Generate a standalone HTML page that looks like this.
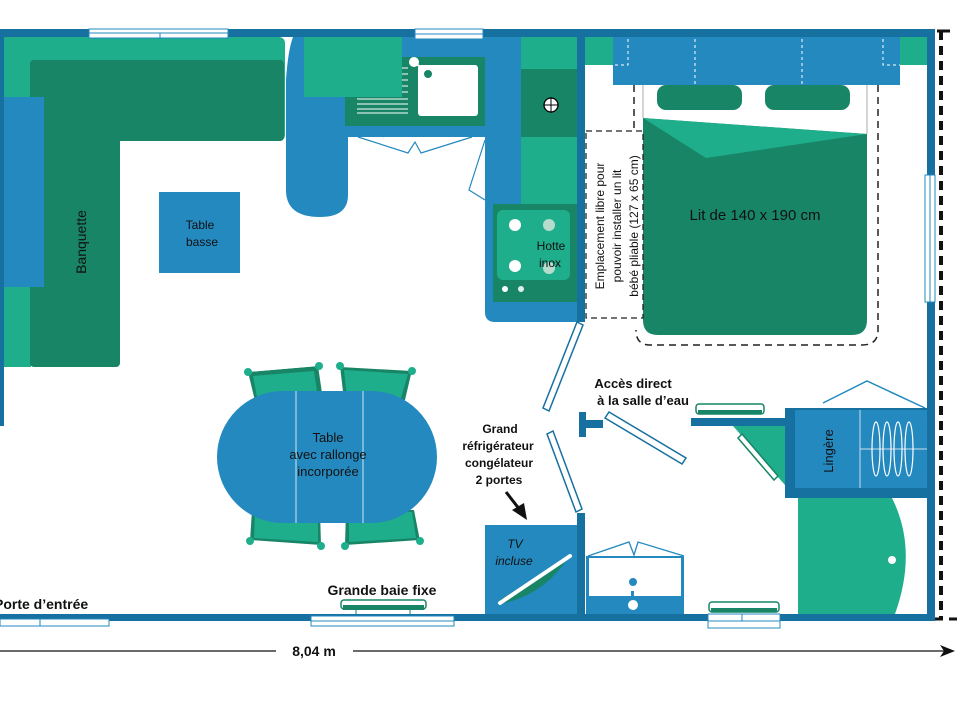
<!DOCTYPE html>
<html><head><meta charset="utf-8"><style>
html,body{margin:0;padding:0;background:#fff;width:960px;height:720px;overflow:hidden}
svg{display:block}
text{font-family:"Liberation Sans",sans-serif;fill:#111}
</style></head><body>
<svg width="960" height="720" viewBox="0 0 960 720" xmlns="http://www.w3.org/2000/svg">
<defs></defs>
<!-- colors -->
<!-- wall #1670a0 blue #2389bf lg #1fae8c dg #178566 -->

<!-- Banquette -->
<rect x="3" y="37" width="282" height="104" rx="6" fill="#1fae8c"/>
<rect x="3" y="37" width="28" height="330" fill="#1fae8c"/>
<rect x="30" y="60" width="254" height="81" rx="4" fill="#178566"/>
<rect x="30" y="60" width="90" height="307" rx="4" fill="#178566"/>
<rect x="3" y="97" width="41" height="190" fill="#2389bf"/>
<rect x="0" y="36" width="4" height="390" fill="#1670a0"/>
<text transform="translate(86,242) rotate(-90)" text-anchor="middle" font-size="14">Banquette</text>

<!-- Table basse -->
<rect x="159" y="192" width="81" height="81" fill="#2389bf"/>
<text x="200" y="229" text-anchor="middle" font-size="12">Table</text>
<text x="202" y="246" text-anchor="middle" font-size="12">basse</text>

<!-- Kitchen -->
<path d="M293 37 L348 37 L348 195 Q348 217 320 217 Q286 217 286 190 L286 80 Q288 50 293 37 Z" fill="#2389bf"/>
<rect x="345" y="37" width="140" height="100" fill="#2389bf"/>
<rect x="304" y="37" width="98" height="60" fill="#1fae8c"/>
<rect x="345" y="57" width="140" height="69" fill="#178566"/>
<rect x="304" y="37" width="98" height="60" fill="#1fae8c"/>
<rect x="418" y="65" width="60" height="51" rx="3" fill="#fff"/>
<g stroke="#fff" stroke-width="1"><line x1="357" y1="99" x2="408" y2="99"/><line x1="357" y1="104" x2="408" y2="104"/><line x1="357" y1="109" x2="408" y2="109"/><line x1="357" y1="113" x2="408" y2="113"/>
<line x1="402" y1="68" x2="408" y2="68"/><line x1="402" y1="74" x2="408" y2="74"/><line x1="402" y1="80" x2="408" y2="80"/><line x1="402" y1="86" x2="408" y2="86"/><line x1="402" y1="92" x2="408" y2="92"/></g>
<circle cx="414" cy="62" r="5" fill="#fff"/><line x1="414" y1="62" x2="428" y2="73" stroke="#fff" stroke-width="2"/><circle cx="428" cy="74" r="4" fill="#178566"/>
<path d="M485 37 L580 37 L580 322 L495 322 Q485 322 485 312 Z" fill="#2389bf"/>
<rect x="521" y="37" width="57" height="265" fill="#1fae8c"/>
<rect x="521" y="69" width="57" height="68" fill="#178566"/>
<circle cx="551" cy="105" r="7" fill="#fff" stroke="#000" stroke-width="1.3"/><line x1="544" y1="105" x2="558" y2="105" stroke="#000"/><line x1="551" y1="97" x2="551" y2="113" stroke="#000"/>
<rect x="493" y="204" width="85" height="98" fill="#178566"/>
<rect x="497" y="210" width="73" height="70" rx="6" fill="#1fae8c"/>
<circle cx="515" cy="225" r="6" fill="#fff"/><circle cx="549" cy="225" r="6" fill="#b5dccc"/><circle cx="515" cy="266" r="6" fill="#fff"/><circle cx="549" cy="268" r="6" fill="#b5dccc"/>
<circle cx="505" cy="289" r="3" fill="#fff"/><circle cx="521" cy="289" r="3" fill="#e0f0ea"/>
<text x="551" y="250" text-anchor="middle" font-size="12">Hotte</text>
<text x="550" y="267" text-anchor="middle" font-size="12">inox</text>
<g fill="none" stroke="#2389bf" stroke-width="1.2"><path d="M358 137 L408 153 L415 142 L421 153 L472 137"/><path d="M485 140 L469 190 L485 200"/></g>
<rect x="577" y="37" width="8" height="285" fill="#1670a0"/>

<!-- Top wall -->
<rect x="0" y="29" width="935" height="8" fill="#1670a0"/>
<rect x="89" y="29" width="139" height="9" fill="#fff" stroke="#2389bf" stroke-width="1"/>
<line x1="89" y1="33" x2="228" y2="33" stroke="#2389bf"/><line x1="160" y1="33" x2="160" y2="38" stroke="#2389bf"/>
<rect x="415" y="29" width="68" height="10" fill="#fff" stroke="#2389bf" stroke-width="1"/>
<line x1="415" y1="34" x2="483" y2="34" stroke="#2389bf"/>

<!-- Bedroom -->
<rect x="585" y="37" width="342" height="28" fill="#1fae8c"/>
<rect x="613" y="37" width="287" height="48" fill="#2389bf"/>
<g stroke="#fff" stroke-width="1" stroke-dasharray="3,3" fill="none"><path d="M628 39 V65 H613"/><path d="M695 39 V85"/><path d="M802 39 V85"/><path d="M883 39 V65 H900"/></g>
<rect x="657" y="85" width="85" height="25" rx="9" fill="#178566"/>
<rect x="765" y="85" width="85" height="25" rx="9" fill="#178566"/>
<path d="M643 118 L867 134 L867 320 Q867 335 852 335 L658 335 Q643 335 643 320 Z" fill="#178566"/>
<path d="M643 118 L867 134 L706 158 Z" fill="#1fae8c"/>
<path d="M643 85 V118 M867 85 V134" stroke="#aaa" stroke-width="1"/>
<path d="M878 85 V330 Q878 345 862 345 L650 345 Q636 345 636 330" fill="none" stroke="#222" stroke-width="1.5" stroke-dasharray="7,5"/>
<line x1="634" y1="85" x2="634" y2="128" stroke="#222" stroke-width="1.5" stroke-dasharray="7,5"/>
<rect x="586" y="131" width="57" height="187" fill="none" stroke="#222" stroke-width="1.3" stroke-dasharray="6,4"/>
<text transform="translate(604,226) rotate(-90)" text-anchor="middle" font-size="12">Emplacement libre pour</text>
<text transform="translate(621,226) rotate(-90)" text-anchor="middle" font-size="12">pouvoir installer un lit</text>
<text transform="translate(638,226) rotate(-90)" text-anchor="middle" font-size="12">bébé pliable  (127 x 65 cm)</text>
<text x="755" y="220" text-anchor="middle" font-size="15">Lit de 140 x 190 cm</text>

<!-- Right wall -->
<rect x="927" y="29" width="8" height="592" fill="#1670a0"/>
<rect x="925" y="175" width="10" height="127" fill="#fff" stroke="#2389bf"/>
<line x1="930" y1="175" x2="930" y2="302" stroke="#2389bf"/>
<line x1="941" y1="31" x2="941" y2="620" stroke="#111" stroke-width="4" stroke-dasharray="9,6"/>
<line x1="937" y1="31" x2="950" y2="31" stroke="#111" stroke-width="3"/>
<line x1="935" y1="619" x2="960" y2="619" stroke="#111" stroke-width="3" stroke-dasharray="8,6"/>

<!-- Doors -->
<g fill="#fff" stroke="#1670a0" stroke-width="1.5">
<polygon points="577,322 583,325 549,411 543,408"/>
<polygon points="547,434 553,431 582,509 576,512"/>
<polygon points="605,418 609,412 686,458 682,464"/>
</g>
<rect x="579" y="412" width="7" height="25" fill="#1670a0"/>
<rect x="585" y="420" width="18" height="8" fill="#1670a0"/>
<text x="633" y="388" text-anchor="middle" font-size="13" font-weight="bold">Accès direct</text>
<text x="643" y="405" text-anchor="middle" font-size="13" font-weight="bold">à la salle d’eau</text>

<!-- Bathroom -->
<path d="M823 403 L867 381 L925 408" fill="none" stroke="#2389bf" stroke-width="1.5"/>
<rect x="696" y="404" width="68" height="10" rx="3" fill="#fff" stroke="#178566" stroke-width="1.5"/>
<rect x="698" y="410" width="64" height="4" fill="#178566"/>
<rect x="691" y="418" width="100" height="8" fill="#1670a0"/>
<path d="M733 426 L785 426 L785 485 Z" fill="#1fae8c"/>
<polygon points="738,438 742,434 778,476 774,480" fill="#fff" stroke="#178566" stroke-width="1.5"/>
<rect x="785" y="408" width="142" height="90" fill="#1670a0"/>
<rect x="795" y="410" width="132" height="78" fill="#2389bf"/>
<line x1="860" y1="410" x2="860" y2="488" stroke="#cde" stroke-width="1"/>
<line x1="860" y1="449" x2="927" y2="449" stroke="#cde" stroke-width="1"/>
<g fill="none" stroke="#fff" stroke-width="1.2"><ellipse cx="876" cy="449" rx="4" ry="27"/><ellipse cx="887" cy="449" rx="4" ry="27"/><ellipse cx="898" cy="449" rx="4" ry="27"/><ellipse cx="909" cy="449" rx="4" ry="27"/></g>
<text transform="translate(833,451) rotate(-90)" text-anchor="middle" font-size="13">Lingère</text>
<path d="M798 498 L892 498 Q918 550 895 614 L798 614 Z" fill="#1fae8c"/>
<circle cx="892" cy="560" r="4" fill="#fff"/>
<!-- sink -->
<path d="M588 556 L629 542 L634 555 L638 542 L684 556" fill="none" stroke="#2389bf" stroke-width="1.3"/>
<rect x="586" y="556" width="98" height="58" fill="#2389bf"/>
<rect x="589" y="558" width="92" height="38" fill="#fff"/>
<circle cx="633" cy="582" r="4" fill="#2389bf"/><rect x="631" y="591" width="3" height="5" fill="#2389bf"/><circle cx="633" cy="605" r="5" fill="#fff"/>
<rect x="709" y="602" width="70" height="10" rx="3" fill="#fff" stroke="#178566" stroke-width="1.5"/>
<rect x="711" y="608" width="66" height="4" fill="#178566"/>
<!-- TV -->
<rect x="485" y="525" width="93" height="89" fill="#2389bf"/>
<path d="M500 604 Q545 595 570 555 L500 600 Z" fill="#178566"/>
<line x1="500" y1="603" x2="570" y2="556" stroke="#fff" stroke-width="4" stroke-linecap="round"/>
<text x="515" y="548" text-anchor="middle" font-size="12" font-style="italic">TV</text>
<text x="514" y="565" text-anchor="middle" font-size="12" font-style="italic">incluse</text>
<rect x="577" y="513" width="8" height="101" fill="#1670a0"/>
<text x="500" y="433" text-anchor="middle" font-size="12" font-weight="bold">Grand</text>
<text x="498" y="450" text-anchor="middle" font-size="12" font-weight="bold">réfrigérateur</text>
<text x="499" y="467" text-anchor="middle" font-size="12" font-weight="bold">congélateur</text>
<text x="499" y="484" text-anchor="middle" font-size="12" font-weight="bold">2 portes</text>
<line x1="506" y1="492" x2="520" y2="510" stroke="#111" stroke-width="3"/>
<polygon points="527,520 512,510 524,503" fill="#111"/>

<!-- Dining -->
<g>
<polygon points="248,372 318,366 323,400 256,405" fill="#178566"/><polygon points="253,376 314,371 318,398 258,402" fill="#1fae8c"/>
<line x1="248" y1="371" x2="319" y2="365" stroke="#fff" stroke-width="2"/><circle cx="248" cy="372" r="4" fill="#1fae8c"/><circle cx="319" cy="366" r="4" fill="#1fae8c"/>
<polygon points="340,366 412,370 405,400 344,400" fill="#178566"/><polygon points="344,370 408,374 401,398 347,398" fill="#1fae8c"/>
<line x1="340" y1="366" x2="412" y2="370" stroke="#fff" stroke-width="2"/><circle cx="340" cy="366" r="4" fill="#1fae8c"/><circle cx="412" cy="371" r="4" fill="#1fae8c"/>
<polygon points="252,510 320,510 321,546 250,541" fill="#178566"/><polygon points="255,512 318,512 318,542 254,538" fill="#1fae8c"/>
<line x1="250" y1="541" x2="321" y2="546" stroke="#fff" stroke-width="2"/><circle cx="250" cy="541" r="4" fill="#1fae8c"/><circle cx="321" cy="546" r="4" fill="#1fae8c"/>
<polygon points="346,510 414,510 420,541 345,546" fill="#178566"/><polygon points="349,512 412,512 416,538 349,542" fill="#1fae8c"/>
<line x1="345" y1="546" x2="420" y2="541" stroke="#fff" stroke-width="2"/><circle cx="345" cy="546" r="4" fill="#1fae8c"/><circle cx="420" cy="541" r="4" fill="#1fae8c"/>
<rect x="217" y="391" width="220" height="132" rx="66" fill="#2389bf"/>
<line x1="296" y1="391" x2="296" y2="523" stroke="#cfe6f2" stroke-width="1"/>
<line x1="363" y1="391" x2="363" y2="523" stroke="#cfe6f2" stroke-width="1"/>
<text x="328" y="442" text-anchor="middle" font-size="13">Table</text>
<text x="328" y="459" text-anchor="middle" font-size="13">avec rallonge</text>
<text x="328" y="476" text-anchor="middle" font-size="13">incorporée</text>
</g>

<!-- Bottom wall -->
<rect x="0" y="614" width="935" height="7" fill="#1670a0"/>
<rect x="0" y="619" width="109" height="7" fill="#fff" stroke="#2389bf"/>
<line x1="40" y1="619" x2="40" y2="626" stroke="#2389bf"/>
<rect x="311" y="616" width="143" height="10" fill="#fff" stroke="#2389bf"/>
<line x1="311" y1="621" x2="454" y2="621" stroke="#2389bf"/>
<rect x="341" y="600" width="85" height="9" rx="3" fill="#fff" stroke="#178566" stroke-width="1.5"/>
<rect x="343" y="605" width="81" height="5" fill="#178566"/>
<line x1="356" y1="610" x2="356" y2="614" stroke="#178566"/><line x1="410" y1="610" x2="410" y2="614" stroke="#178566"/>
<rect x="708" y="614" width="72" height="14" fill="#fff" stroke="#2389bf"/>
<line x1="708" y1="621" x2="780" y2="621" stroke="#2389bf"/><line x1="742" y1="614" x2="742" y2="621" stroke="#2389bf"/>
<text x="-6" y="609" font-size="14" font-weight="bold">Porte d’entrée</text>
<text x="382" y="595" text-anchor="middle" font-size="14" font-weight="bold">Grande baie fixe</text>

<!-- Dimension -->
<line x1="0" y1="651" x2="276" y2="651" stroke="#111" stroke-width="1.2"/>
<line x1="353" y1="651" x2="945" y2="651" stroke="#111" stroke-width="1.2"/>
<polygon points="955,651 940,645 944,651 940,657" fill="#111"/>
<text x="314" y="656" text-anchor="middle" font-size="14" font-weight="bold">8,04 m</text>
</svg>
</body></html>
